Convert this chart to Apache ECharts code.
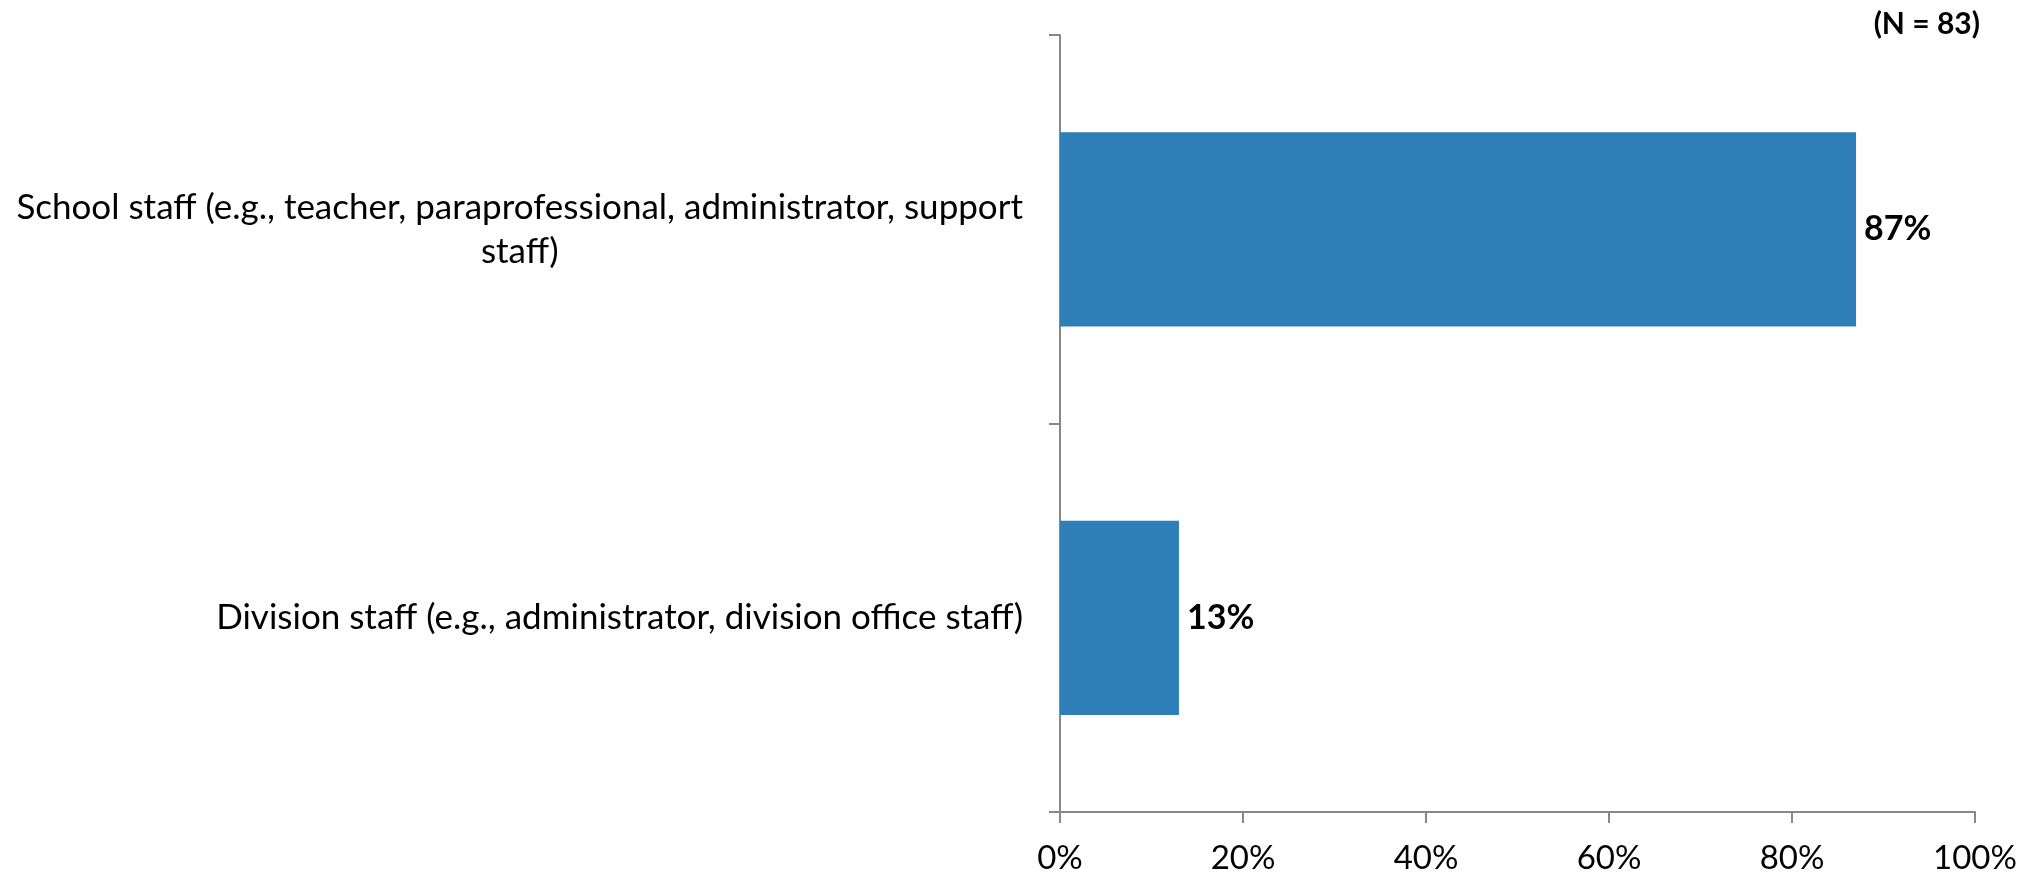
<!DOCTYPE html>
<html>
<head>
<meta charset="utf-8">
<script src="https://cdn.jsdelivr.net/npm/echarts@6/dist/echarts.min.js"></script>
<style>
  html, body { margin: 0; padding: 0; background: #ffffff; }
  #chart { width: 2034px; height: 876px; }
</style>
</head>
<body>
<div id="chart"></div>
<script>
// ---- data ----
var categories = [
  'School staff (e.g., teacher, paraprofessional, administrator, support\nstaff)',
  'Division staff (e.g., administrator, division office staff)'
];
var values = [87, 13];
var xTicks = [0, 20, 40, 60, 80, 100];
var sampleNote = '(N = 83)';

var FONT = 'Lato, "Open Sans", sans-serif';
var chart = echarts.init(document.getElementById('chart'), null, { renderer: 'canvas' });

chart.setOption({
  backgroundColor: '#ffffff',
  animation: false,
  grid: { left: 1060, right: 59, top: 35, bottom: 64, containLabel: false },
  xAxis: {
    type: 'value',
    min: xTicks[0],
    max: xTicks[xTicks.length - 1],
    interval: xTicks[1] - xTicks[0],
    splitLine: { show: false },
    axisLine: { show: true, lineStyle: { color: '#888888', width: 2 } },
    axisTick: { show: true, length: 11, lineStyle: { color: '#888888', width: 2 } },
    axisLabel: {
      margin: 30,
      color: '#000000',
      fontFamily: FONT,
      fontSize: 33,
      formatter: function (v) { return v + '%'; }
    }
  },
  yAxis: {
    type: 'category',
    inverse: true,
    data: categories,
    axisLine: { show: true, lineStyle: { color: '#888888', width: 2 } },
    axisTick: { show: true, length: 11, lineStyle: { color: '#888888', width: 2 } },
    axisLabel: {
      margin: 37,
      color: '#000000',
      fontFamily: FONT,
      fontSize: 35,
      lineHeight: 44,
      align: 'right',
      formatter: function (v) {
        return v.split('\n').map(function (l) { return '{c|' + l + '}'; }).join('\n');
      },
      rich: {
        c: { align: 'center', fontFamily: FONT, fontSize: 35, lineHeight: 44, color: '#000000' }
      }
    }
  },
  series: [{
    type: 'bar',
    data: values,
    barCategoryGap: '50%',
    itemStyle: { color: '#2E7EB8' },
    label: {
      show: true,
      position: 'right',
      distance: 8,
      color: '#000000',
      fontFamily: FONT,
      fontWeight: 'bold',
      fontSize: 34,
      formatter: function (p) { return p.value + '%'; }
    }
  }],
  graphic: [{
    type: 'text',
    right: 54,
    top: 9,
    style: {
      text: sampleNote,
      fill: '#000000',
      font: 'bold 30px ' + FONT
    }
  }]
});
</script>
</body>
</html>
